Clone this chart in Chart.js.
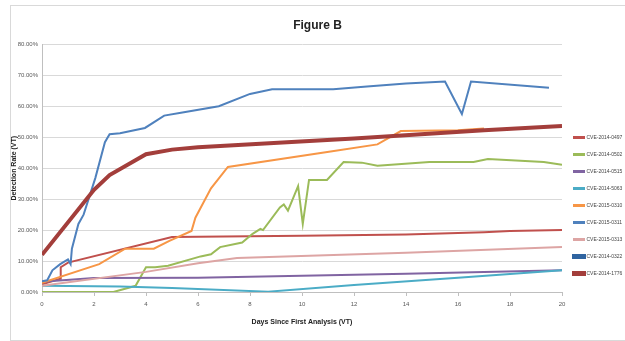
<!DOCTYPE html>
<html>
<head>
<meta charset="utf-8">
<script src="https://cdn.jsdelivr.net/npm/chart.js@4"></script>
<style>
  html, body { margin: 0; padding: 0; background: #fff; }
  #wrap { position: relative; width: 625px; height: 341px; }
  #frame { position: absolute; left: 10px; top: 5px; width: 620px; height: 334px; border: 1px solid #d9d9d9; }
  canvas { position: absolute; left: 0; top: 0; }
</style>
</head>
<body>
<div id="wrap">
  <div id="frame"></div>
  <canvas id="figureB" width="625" height="341"></canvas>
</div>
<script>
// [days since first analysis, detection rate %]
const cve2014_0497 = [[0, 2.5], [0.7, 4.3], [0.72, 8], [1, 9.5], [5, 17.8], [10, 18.2], [14, 18.6], [17, 19.3], [18, 19.7], [20, 20]];
const cve2014_0502 = [[0, 0], [2.75, 0], [3.6, 2], [4, 8], [4.35, 8], [4.85, 8.5], [6.1, 11.5], [6.5, 12.2], [6.85, 14.5], [7.7, 16], [8.1, 18.8], [8.4, 20.4], [8.5, 20], [9.15, 27.3], [9.3, 28.3], [9.46, 26.3], [9.85, 34.2], [10.03, 22], [10.27, 36.2], [10.96, 36.2], [11.6, 42], [12.3, 41.8], [12.9, 40.8], [14.9, 42], [16.6, 42], [17.15, 43], [19.3, 42], [20, 41.1]];
const cve2014_0515 = [[0, 3.3], [2, 4.5], [6, 4.6], [14, 5.9], [17, 6.5], [20, 7]];
const cve2014_5063 = [[0, 2], [3, 1.8], [5, 1.3], [8.7, 0.1], [12, 2.3], [16, 4.6], [20, 7]];
const cve2015_0310 = [[0, 3], [2.2, 9], [3.2, 14], [4.3, 14], [4.9, 16.5], [5.75, 19.7], [5.9, 24], [6.5, 33.5], [7.15, 40.4], [11.1, 45.4], [12.9, 47.7], [13.8, 52], [16, 52.3], [17, 52.8]];
const cve2015_0311 = [[0, 3.5], [0.2, 3.8], [0.4, 7], [0.7, 9], [1, 10.5], [1.1, 9], [1.15, 14], [1.4, 22], [1.6, 25], [2.05, 36.8], [2.42, 48.4], [2.6, 51], [3, 51.3], [3.96, 53], [4.7, 57], [5.4, 58], [6.8, 60], [8, 64], [8.85, 65.5], [11.2, 65.5], [12.5, 66.4], [14, 67.4], [15.5, 68], [16.15, 57.5], [16.5, 68], [19.5, 66]];
const cve2015_0313 = [[0, 2], [4, 6.5], [6, 9.3], [7.5, 11], [14, 12.7], [20, 14.5]];
const cve2014_0322 = [];
const cve2014_1776 = [[0, 12], [2, 33], [2.6, 37.8], [4, 44.5], [5, 46], [6, 46.8], [12, 49.6], [17, 52.3], [20, 53.6]];

const seriesNames = ['CVE-2014-0497', 'CVE-2014-0502', 'CVE-2014-0515', 'CVE-2014-5063', 'CVE-2015-0310', 'CVE-2015-0311', 'CVE-2015-0313', 'CVE-2014-0322', 'CVE-2014-1776'];
const seriesData = [cve2014_0497, cve2014_0502, cve2014_0515, cve2014_5063, cve2015_0310, cve2015_0311, cve2015_0313, cve2014_0322, cve2014_1776];
const seriesColors = ['#C0504D', '#9BBB59', '#8064A2', '#4BACC6', '#F79646', '#4F81BD', '#DDA5A4', '#2F64A0', '#A33E3B'];
const seriesWidths = [2, 2, 2, 2, 2, 2, 2, 4, 4];

const xTicks = [0, 2, 4, 6, 8, 10, 12, 14, 16, 18, 20];
const yTicks = [0, 10, 20, 30, 40, 50, 60, 70, 80];

const datasets = seriesNames.map((name, i) => ({
    label: name,
    data: seriesData[i].map(p => ({ x: p[0], y: p[1] })),
    borderColor: seriesColors[i],
    backgroundColor: seriesColors[i],
    borderWidth: seriesWidths[i],
    pointRadius: 0,
    showLine: true,
    tension: 0,
    order: seriesNames.length - i
}));

const smallFont = 'Liberation Sans Narrow, Liberation Sans, sans-serif';
const tickFont = { family: smallFont, size: 6 };

new Chart(document.getElementById('figureB'), {
    type: 'scatter',
    data: { datasets },
    options: {
        responsive: false,
        animation: false,
        layout: { padding: { left: 10, top: 4, right: 0, bottom: 11 } },
        plugins: {
            title: {
                display: true,
                text: 'Figure B',
                font: { family: smallFont, size: 12, weight: 'bold' },
                color: '#222',
                padding: { top: 14, bottom: 12 }
            },
            tooltip: { enabled: false },
            legend: {
                position: 'right',
                align: 'start',
                maxWidth: 63,
                title: {
                    display: true,
                    text: '',
                    font: { size: 5 },
                    padding: { top: 113, bottom: 0 }
                },
                labels: {
                    font: { family: smallFont, size: 5 },
                    color: '#444',
                    boxWidth: 10,
                    boxHeight: 1,
                    padding: 12,
                    sort: (a, b) => a.datasetIndex - b.datasetIndex
                }
            }
        },
        scales: {
            x: {
                type: 'linear',
                min: 0,
                max: 20,
                afterBuildTicks: scale => { scale.ticks = xTicks.map(v => ({ value: v })); },
                afterFit: scale => { scale.height = 38; },
                ticks: { font: tickFont, color: '#595959', padding: 5 },
                grid: { drawOnChartArea: false, tickLength: 4, color: '#bfbfbf' },
                border: { color: '#bfbfbf' },
                title: {
                    display: true,
                    text: 'Days Since First Analysis (VT)',
                    font: { family: smallFont, size: 7, weight: 'bold' },
                    color: '#222',
                    padding: { top: 4, bottom: 4 }
                }
            },
            y: {
                min: 0,
                max: 80,
                afterBuildTicks: scale => { scale.ticks = yTicks.map(v => ({ value: v })); },
                afterFit: scale => { scale.width = 32; },
                ticks: {
                    font: tickFont,
                    color: '#595959',
                    padding: 4,
                    callback: value => value.toFixed(2) + '%'
                },
                grid: { color: '#d9d9d9', tickLength: 0 },
                border: { color: '#bfbfbf' },
                title: {
                    display: true,
                    text: 'Detection Rate (VT)',
                    font: { family: smallFont, size: 7, weight: 'bold' },
                    color: '#222',
                    padding: { top: 0, bottom: 2 }
                }
            }
        }
    }
});
</script>
</body>
</html>
